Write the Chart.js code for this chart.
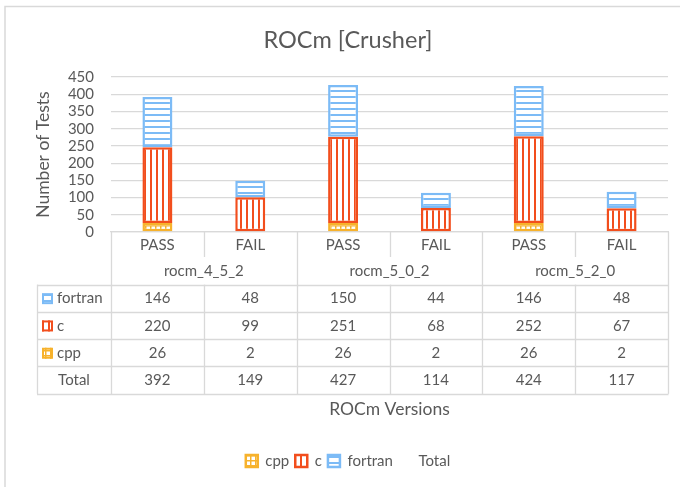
<!DOCTYPE html>
<html><head><meta charset="utf-8">
<script src="https://cdn.jsdelivr.net/npm/chart.js@4.4.1/dist/chart.umd.min.js"></script>
<style>html,body{margin:0;padding:0;background:#fff}#wrap{width:680px;height:487px;position:relative}</style>
</head><body><div id="wrap"><canvas id="cv" width="680" height="487"></canvas></div>
<script>
const categories = ['PASS', 'FAIL', 'PASS', 'FAIL', 'PASS', 'FAIL'];
const groups = ['rocm_4_5_2', 'rocm_5_0_2', 'rocm_5_2_0'];
const cppValues = [26, 2, 26, 2, 26, 2];
const cValues = [220, 99, 251, 68, 252, 67];
const fortranValues = [146, 48, 150, 44, 146, 48];
const totalValues = [392, 149, 427, 114, 424, 117];
const seriesNames = ['cpp', 'c', 'fortran', 'Total'];
const chartTitle = 'ROCm [Crusher]';
const xTitle = 'ROCm Versions';
const yTitle = 'Number of Tests';

const FONT = 'Lato';
const TXT = '#595959';
const LINE = '#D9D9D9';
const COL_CPP = '#F7B22C';
const COL_C = '#F24E1D';
const COL_F = '#7CBBF6';

function makePattern(kind, color) {
  const s = kind === 'grid' ? 5 : 6;
  const cv = document.createElement('canvas');
  cv.width = s; cv.height = s;
  const g = cv.getContext('2d');
  g.fillStyle = '#ffffff';
  g.fillRect(0, 0, s, s);
  g.fillStyle = color;
  if (kind === 'v') g.fillRect(0, 0, 2, s);
  else if (kind === 'h') g.fillRect(0, 0, s, 2);
  else { g.fillRect(0, 0, 1.5, s); g.fillRect(0, 0, s, 1.5); }
  return g.createPattern(cv, 'repeat');
}
const patCpp = makePattern('grid', COL_CPP);
const patC = makePattern('v', COL_C);
const patF = makePattern('h', COL_F);

const frame = {
  id: 'frame',
  beforeDraw(chart) {
    const ctx = chart.ctx;
    ctx.save();
    ctx.fillStyle = '#fff';
    ctx.fillRect(0, 0, chart.width, chart.height);
    ctx.strokeStyle = LINE;
    ctx.lineWidth = 1.5;
    ctx.strokeRect(5, 6.5, 800, 600);
    ctx.restore();
  }
};

const dataTable = {
  id: 'dataTable',
  afterDraw(chart) {
    const ctx = chart.ctx;
    const a = chart.chartArea;
    const x = chart.scales.x;
    const n = categories.length;
    const w = (a.right - a.left) / n;
    const y0 = a.bottom;
    const subEnd = y0 + 25;
    const grpBottom = y0 + 52.5;
    const rowH = 27.3;
    const tblLeft = 37;
    const rows = [
      {name: seriesNames[2], vals: fortranValues, pat: patF, col: COL_F},
      {name: seriesNames[1], vals: cValues, pat: patC, col: COL_C},
      {name: seriesNames[0], vals: cppValues, pat: patCpp, col: COL_CPP},
      {name: seriesNames[3], vals: totalValues}
    ];
    const tblBottom = grpBottom + rowH * rows.length;
    ctx.save();
    ctx.strokeStyle = LINE;
    ctx.lineWidth = 1.3;
    ctx.beginPath();
    for (let i = 0; i <= n; i++) {
      const xx = Math.round(a.left + i * w) + 0.5;
      if (i % 2 === 0) { ctx.moveTo(xx, y0); ctx.lineTo(xx, tblBottom); }
      else { ctx.moveTo(xx, y0); ctx.lineTo(xx, subEnd); ctx.moveTo(xx, grpBottom); ctx.lineTo(xx, tblBottom); }
    }
    ctx.moveTo(tblLeft + 0.5, grpBottom); ctx.lineTo(tblLeft + 0.5, tblBottom);
    for (let r = 0; r <= rows.length; r++) {
      const yy = Math.round(grpBottom + r * rowH) + 0.5;
      ctx.moveTo(tblLeft, yy); ctx.lineTo(a.right + 0.5, yy);
    }
    ctx.stroke();

    ctx.fillStyle = TXT;
    ctx.font = '15px ' + FONT;
    ctx.textAlign = 'center';
    ctx.textBaseline = 'middle';
    groups.forEach((gname, gi) => {
      const cx = (x.getPixelForValue(gi * 2) + x.getPixelForValue(gi * 2 + 1)) / 2;
      ctx.fillText(gname, cx, y0 + 39.5);
    });
    rows.forEach((row, r) => {
      const cy = grpBottom + r * rowH + rowH / 2 + 0.5;
      row.vals.forEach((v, i) => {
        ctx.textAlign = 'center';
        ctx.fillText(String(v), x.getPixelForValue(i), cy);
      });
      if (row.pat) {
        ctx.fillStyle = row.pat;
        ctx.fillRect(42, cy - 5.5, 11, 11);
        ctx.strokeStyle = row.col;
        ctx.lineWidth = 2;
        ctx.strokeRect(43, cy - 4.5, 9, 9);
        ctx.fillStyle = TXT;
        ctx.textAlign = 'left';
        ctx.fillText(row.name, 57, cy);
      } else {
        ctx.textAlign = 'center';
        ctx.fillText(row.name, (tblLeft + a.left) / 2, cy);
      }
    });
    ctx.restore();
  }
};

const barCommon = {
  borderWidth: 2.5,
  borderSkipped: false,
  categoryPercentage: 1,
  barPercentage: 0.323,
  stack: 'tests'
};

new Chart(document.getElementById('cv'), {
  type: 'bar',
  data: {
    labels: categories,
    datasets: [
      Object.assign({label: seriesNames[0], data: cppValues, backgroundColor: patCpp, borderColor: COL_CPP}, barCommon),
      Object.assign({label: seriesNames[1], data: cValues, backgroundColor: patC, borderColor: COL_C}, barCommon),
      Object.assign({label: seriesNames[2], data: fortranValues, backgroundColor: patF, borderColor: COL_F}, barCommon),
      {type: 'line', label: seriesNames[3], data: totalValues, showLine: false, pointRadius: 0,
       backgroundColor: 'rgba(0,0,0,0)', borderColor: 'rgba(0,0,0,0)', stack: 'totalLine'}
    ]
  },
  options: {
    responsive: false,
    animation: false,
    devicePixelRatio: 1,
    layout: {padding: {left: 28, right: 12, top: 0, bottom: 8.5}},
    plugins: {
      tooltip: {enabled: false},
      title: {
        display: true, text: chartTitle, color: TXT,
        font: {family: FONT, size: 23.5, weight: 'normal'},
        padding: {top: 25.9, bottom: 23}
      },
      legend: {
        position: 'bottom',
        labels: {
          color: TXT, font: {family: FONT, size: 15},
          boxWidth: 12, boxHeight: 12, padding: 6
        }
      }
    },
    scales: {
      x: {
        stacked: true,
        grid: {display: false, drawTicks: false},
        border: {display: true, color: LINE, width: 1.3},
        ticks: {color: TXT, font: {family: FONT, size: 15}, padding: 4},
        title: {display: true, text: xTitle, color: TXT, font: {family: FONT, size: 17.5}, padding: {top: 0, bottom: 28}},
        afterFit(s) { s.height = 215.5; }
      },
      y: {
        stacked: true,
        min: 0, max: 450,
        grid: {color: LINE, lineWidth: 1.3, drawTicks: false},
        border: {display: false},
        ticks: {color: TXT, font: {family: FONT, size: 15}, padding: 17, stepSize: 50, autoSkip: false},
        title: {display: true, text: yTitle, color: TXT, font: {family: FONT, size: 17.5}, padding: {top: 5, bottom: 0}},
        afterFit(s) { s.width = 83; }
      }
    }
  },
  plugins: [frame, dataTable]
});
</script>
</body></html>
